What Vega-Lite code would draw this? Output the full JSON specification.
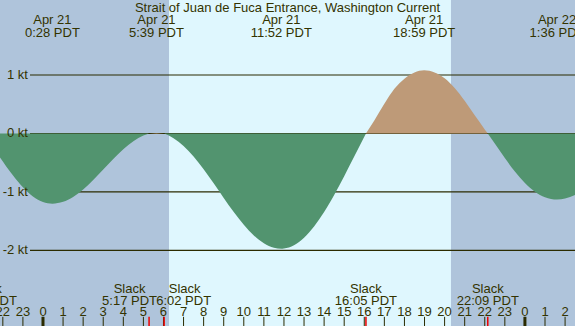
{
  "$schema": "https://vega.github.io/schema/vega-lite/v6.json",
  "width": 575,
  "height": 326,
  "autosize": {"type": "none"},
  "padding": 0,
  "background": "#afc4db",
  "config": {"view": {"stroke": null}},
  "datasets": {
    "periods": [
      {"start": -2.141, "end": 6.275, "period": "night"},
      {"start": 6.275, "end": 20.318, "period": "day"},
      {"start": 20.318, "end": 26.494, "period": "night"}
    ],
    "levels": [
      {"knots": 1, "label": "1 kt"},
      {"knots": 0, "label": "0 kt"},
      {"knots": -1, "label": "-1 kt"},
      {"knots": -2, "label": "-2 kt"}
    ],
    "current": [
      {"hour": -2.141, "knots": -0.41, "phase": "ebb", "seg": 1},
      {"hour": -1.5, "knots": -0.715, "phase": "ebb", "seg": 1},
      {"hour": -1.0, "knots": -0.92, "phase": "ebb", "seg": 1},
      {"hour": -0.5, "knots": -1.077, "phase": "ebb", "seg": 1},
      {"hour": 0.0, "knots": -1.171, "phase": "ebb", "seg": 1},
      {"hour": 0.467, "knots": -1.2, "phase": "ebb", "seg": 1},
      {"hour": 1.0, "knots": -1.169, "phase": "ebb", "seg": 1},
      {"hour": 1.5, "knots": -1.085, "phase": "ebb", "seg": 1},
      {"hour": 2.0, "knots": -0.957, "phase": "ebb", "seg": 1},
      {"hour": 2.5, "knots": -0.796, "phase": "ebb", "seg": 1},
      {"hour": 3.0, "knots": -0.616, "phase": "ebb", "seg": 1},
      {"hour": 3.5, "knots": -0.435, "phase": "ebb", "seg": 1},
      {"hour": 4.0, "knots": -0.268, "phase": "ebb", "seg": 1},
      {"hour": 4.5, "knots": -0.131, "phase": "ebb", "seg": 1},
      {"hour": 5.0, "knots": -0.036, "phase": "ebb", "seg": 1},
      {"hour": 5.283, "knots": 0, "phase": "ebb", "seg": 1},
      {"hour": 5.283, "knots": 0, "phase": "flood", "seg": 2},
      {"hour": 5.65, "knots": 0.008, "phase": "flood", "seg": 2},
      {"hour": 6.033, "knots": 0, "phase": "flood", "seg": 2},
      {"hour": 6.033, "knots": 0, "phase": "ebb", "seg": 3},
      {"hour": 6.5, "knots": -0.08, "phase": "ebb", "seg": 3},
      {"hour": 7.0, "knots": -0.212, "phase": "ebb", "seg": 3},
      {"hour": 7.5, "knots": -0.392, "phase": "ebb", "seg": 3},
      {"hour": 8.0, "knots": -0.61, "phase": "ebb", "seg": 3},
      {"hour": 8.5, "knots": -0.851, "phase": "ebb", "seg": 3},
      {"hour": 9.0, "knots": -1.101, "phase": "ebb", "seg": 3},
      {"hour": 9.5, "knots": -1.342, "phase": "ebb", "seg": 3},
      {"hour": 10.0, "knots": -1.561, "phase": "ebb", "seg": 3},
      {"hour": 10.5, "knots": -1.743, "phase": "ebb", "seg": 3},
      {"hour": 11.0, "knots": -1.877, "phase": "ebb", "seg": 3},
      {"hour": 11.5, "knots": -1.953, "phase": "ebb", "seg": 3},
      {"hour": 11.867, "knots": -1.97, "phase": "ebb", "seg": 3},
      {"hour": 12.0, "knots": -1.967, "phase": "ebb", "seg": 3},
      {"hour": 12.5, "knots": -1.911, "phase": "ebb", "seg": 3},
      {"hour": 13.0, "knots": -1.782, "phase": "ebb", "seg": 3},
      {"hour": 13.5, "knots": -1.59, "phase": "ebb", "seg": 3},
      {"hour": 14.0, "knots": -1.343, "phase": "ebb", "seg": 3},
      {"hour": 14.5, "knots": -1.05, "phase": "ebb", "seg": 3},
      {"hour": 15.0, "knots": -0.73, "phase": "ebb", "seg": 3},
      {"hour": 15.5, "knots": -0.395, "phase": "ebb", "seg": 3},
      {"hour": 16.083, "knots": 0, "phase": "ebb", "seg": 3},
      {"hour": 16.083, "knots": 0, "phase": "flood", "seg": 4},
      {"hour": 16.5, "knots": 0.223, "phase": "flood", "seg": 4},
      {"hour": 17.0, "knots": 0.507, "phase": "flood", "seg": 4},
      {"hour": 17.5, "knots": 0.764, "phase": "flood", "seg": 4},
      {"hour": 18.0, "knots": 0.938, "phase": "flood", "seg": 4},
      {"hour": 18.5, "knots": 1.045, "phase": "flood", "seg": 4},
      {"hour": 18.983, "knots": 1.08, "phase": "flood", "seg": 4},
      {"hour": 19.5, "knots": 1.045, "phase": "flood", "seg": 4},
      {"hour": 20.0, "knots": 0.945, "phase": "flood", "seg": 4},
      {"hour": 20.5, "knots": 0.78, "phase": "flood", "seg": 4},
      {"hour": 21.0, "knots": 0.56, "phase": "flood", "seg": 4},
      {"hour": 21.5, "knots": 0.31, "phase": "flood", "seg": 4},
      {"hour": 22.0, "knots": 0.07, "phase": "flood", "seg": 4},
      {"hour": 22.15, "knots": 0, "phase": "flood", "seg": 4},
      {"hour": 22.15, "knots": 0, "phase": "ebb", "seg": 5},
      {"hour": 22.5, "knots": -0.17, "phase": "ebb", "seg": 5},
      {"hour": 23.0, "knots": -0.42, "phase": "ebb", "seg": 5},
      {"hour": 23.5, "knots": -0.65, "phase": "ebb", "seg": 5},
      {"hour": 24.0, "knots": -0.845, "phase": "ebb", "seg": 5},
      {"hour": 24.5, "knots": -0.995, "phase": "ebb", "seg": 5},
      {"hour": 25.0, "knots": -1.09, "phase": "ebb", "seg": 5},
      {"hour": 25.6, "knots": -1.13, "phase": "ebb", "seg": 5},
      {"hour": 26.0, "knots": -1.11, "phase": "ebb", "seg": 5},
      {"hour": 26.494, "knots": -1.05, "phase": "ebb", "seg": 5}
    ],
    "events": [
      {"hour": 0.467, "date": "Apr 21", "time": "0:28 PDT"},
      {"hour": 5.65, "date": "Apr 21", "time": "5:39 PDT"},
      {"hour": 11.867, "date": "Apr 21", "time": "11:52 PDT"},
      {"hour": 18.983, "date": "Apr 21", "time": "18:59 PDT"},
      {"hour": 25.6, "date": "Apr 22", "time": "1:36 PDT"}
    ],
    "slacks": [
      {"hour": -2.85, "time": "21:09 PDT", "shift": "none"},
      {"hour": 5.283, "time": "5:17 PDT", "shift": "left"},
      {"hour": 6.033, "time": "6:02 PDT", "shift": "right"},
      {"hour": 16.083, "time": "16:05 PDT", "shift": "none"},
      {"hour": 22.15, "time": "22:09 PDT", "shift": "none"}
    ],
    "hours": [
      {"hour": -2, "label": "22"}, {"hour": -1, "label": "23"}, {"hour": 0, "label": "0"},
      {"hour": 1, "label": "1"}, {"hour": 2, "label": "2"}, {"hour": 3, "label": "3"},
      {"hour": 4, "label": "4"}, {"hour": 5, "label": "5"}, {"hour": 6, "label": "6"},
      {"hour": 7, "label": "7"}, {"hour": 8, "label": "8"}, {"hour": 9, "label": "9"},
      {"hour": 10, "label": "10"}, {"hour": 11, "label": "11"}, {"hour": 12, "label": "12"},
      {"hour": 13, "label": "13"}, {"hour": 14, "label": "14"}, {"hour": 15, "label": "15"},
      {"hour": 16, "label": "16"}, {"hour": 17, "label": "17"}, {"hour": 18, "label": "18"},
      {"hour": 19, "label": "19"}, {"hour": 20, "label": "20"}, {"hour": 21, "label": "21"},
      {"hour": 22, "label": "22"}, {"hour": 23, "label": "23"}, {"hour": 24, "label": "0"},
      {"hour": 25, "label": "1"}, {"hour": 26, "label": "2"}
    ],
    "title": [{"text": "Strait of Juan de Fuca Entrance, Washington Current"}]
  },
  "encoding": {
    "x": {"type": "quantitative", "scale": {"domain": [-2.141, 26.494], "nice": false, "zero": false}, "axis": null},
    "y": {"type": "quantitative", "scale": {"domain": [-3.292, 2.283], "nice": false, "zero": false}, "axis": null}
  },
  "layer": [
    {
      "data": {"name": "periods"},
      "mark": {"type": "rect"},
      "encoding": {
        "x": {"field": "start", "type": "quantitative"},
        "x2": {"field": "end"},
        "y": {"datum": 2.283, "type": "quantitative"},
        "y2": {"datum": -3.292},
        "color": {"field": "period", "type": "nominal", "scale": {"domain": ["night", "day"], "range": ["#afc4db", "#dff7fe"]}, "legend": null}
      }
    },
    {
      "data": {"name": "levels"},
      "mark": {"type": "rule", "color": "#2b2b00", "strokeWidth": 1.2},
      "encoding": {
        "x": {"datum": -0.647, "type": "quantitative"},
        "x2": {"datum": 26.494},
        "y": {"field": "knots", "type": "quantitative"}
      }
    },
    {
      "data": {"name": "current"},
      "mark": {"type": "area", "interpolate": "monotone"},
      "encoding": {
        "x": {"field": "hour", "type": "quantitative"},
        "y": {"field": "knots", "type": "quantitative"},
        "y2": {"datum": 0},
        "detail": {"field": "seg", "type": "nominal"},
        "color": {"field": "phase", "type": "nominal", "scale": {"domain": ["ebb", "flood"], "range": ["#52946f", "#be9a78"]}, "legend": null}
      }
    },
    {
      "data": {"name": "levels"},
      "mark": {"type": "text", "align": "right", "baseline": "middle", "font": "Liberation Sans", "fontSize": 13, "fill": "#333300"},
      "encoding": {
        "x": {"datum": -0.747, "type": "quantitative"},
        "y": {"field": "knots", "type": "quantitative"},
        "text": {"field": "label"}
      }
    },
    {
      "data": {"name": "title"},
      "mark": {"type": "text", "align": "center", "baseline": "alphabetic", "font": "Liberation Sans", "fontSize": 13, "fill": "#333300"},
      "encoding": {
        "x": {"datum": 12.176, "type": "quantitative"},
        "y": {"datum": 2.073, "type": "quantitative"},
        "text": {"field": "text"}
      }
    },
    {
      "data": {"name": "events"},
      "mark": {"type": "text", "align": "center", "baseline": "alphabetic", "font": "Liberation Sans", "fontSize": 13, "fill": "#333300"},
      "encoding": {
        "x": {"field": "hour", "type": "quantitative"},
        "y": {"datum": 1.868, "type": "quantitative"},
        "text": {"field": "date"}
      }
    },
    {
      "data": {"name": "events"},
      "mark": {"type": "text", "align": "center", "baseline": "alphabetic", "font": "Liberation Sans", "fontSize": 13, "fill": "#333300"},
      "encoding": {
        "x": {"field": "hour", "type": "quantitative"},
        "y": {"datum": 1.657, "type": "quantitative"},
        "text": {"field": "time"}
      }
    },
    {
      "data": {"name": "slacks"},
      "transform": [{"filter": "datum.shift === 'none'"}],
      "mark": {"type": "text", "align": "center", "baseline": "alphabetic", "font": "Liberation Sans", "fontSize": 13, "fill": "#333300", "text": "Slack"},
      "encoding": {
        "x": {"field": "hour", "type": "quantitative"},
        "y": {"datum": -2.721, "type": "quantitative"}
      }
    },
    {
      "data": {"name": "slacks"},
      "transform": [{"filter": "datum.shift === 'none'"}],
      "mark": {"type": "text", "align": "center", "baseline": "alphabetic", "font": "Liberation Sans", "fontSize": 13, "fill": "#333300"},
      "encoding": {
        "x": {"field": "hour", "type": "quantitative"},
        "y": {"datum": -2.938, "type": "quantitative"},
        "text": {"field": "time"}
      }
    },
    {
      "data": {"name": "slacks"},
      "transform": [{"filter": "datum.shift === 'left'"}],
      "mark": {"type": "text", "align": "center", "baseline": "alphabetic", "font": "Liberation Sans", "fontSize": 13, "fill": "#333300", "text": "Slack", "dx": -19.5},
      "encoding": {
        "x": {"field": "hour", "type": "quantitative"},
        "y": {"datum": -2.721, "type": "quantitative"}
      }
    },
    {
      "data": {"name": "slacks"},
      "transform": [{"filter": "datum.shift === 'left'"}],
      "mark": {"type": "text", "align": "center", "baseline": "alphabetic", "font": "Liberation Sans", "fontSize": 13, "fill": "#333300", "dx": -19.5},
      "encoding": {
        "x": {"field": "hour", "type": "quantitative"},
        "y": {"datum": -2.938, "type": "quantitative"},
        "text": {"field": "time"}
      }
    },
    {
      "data": {"name": "slacks"},
      "transform": [{"filter": "datum.shift === 'right'"}],
      "mark": {"type": "text", "align": "center", "baseline": "alphabetic", "font": "Liberation Sans", "fontSize": 13, "fill": "#333300", "text": "Slack", "dx": 20.5},
      "encoding": {
        "x": {"field": "hour", "type": "quantitative"},
        "y": {"datum": -2.721, "type": "quantitative"}
      }
    },
    {
      "data": {"name": "slacks"},
      "transform": [{"filter": "datum.shift === 'right'"}],
      "mark": {"type": "text", "align": "center", "baseline": "alphabetic", "font": "Liberation Sans", "fontSize": 13, "fill": "#333300", "dx": 19.5},
      "encoding": {
        "x": {"field": "hour", "type": "quantitative"},
        "y": {"datum": -2.938, "type": "quantitative"},
        "text": {"field": "time"}
      }
    },
    {
      "data": {"name": "hours"},
      "mark": {"type": "text", "align": "center", "baseline": "alphabetic", "font": "Liberation Sans", "fontSize": 13, "fill": "#333300"},
      "encoding": {
        "x": {"field": "hour", "type": "quantitative"},
        "y": {"datum": -3.116, "type": "quantitative"},
        "text": {"field": "label"}
      }
    },
    {
      "data": {"name": "hours"},
      "mark": {"type": "rule", "color": "#2b2b00", "strokeWidth": 1},
      "encoding": {
        "x": {"field": "hour", "type": "quantitative"},
        "y": {"datum": -3.135, "type": "quantitative"},
        "y2": {"datum": -3.292}
      }
    },
    {
      "data": {"name": "hours"},
      "transform": [{"filter": "datum.label === '0'"}],
      "mark": {"type": "rule", "color": "#2b2b00", "strokeWidth": 3},
      "encoding": {
        "x": {"field": "hour", "type": "quantitative"},
        "y": {"datum": -3.135, "type": "quantitative"},
        "y2": {"datum": -3.292}
      }
    },
    {
      "data": {"name": "slacks"},
      "mark": {"type": "rule", "color": "#ee0000", "strokeWidth": 1.5},
      "encoding": {
        "x": {"field": "hour", "type": "quantitative"},
        "y": {"datum": -3.135, "type": "quantitative"},
        "y2": {"datum": -3.292}
      }
    }
  ],
  "resolve": {"scale": {"color": "independent"}}
}
